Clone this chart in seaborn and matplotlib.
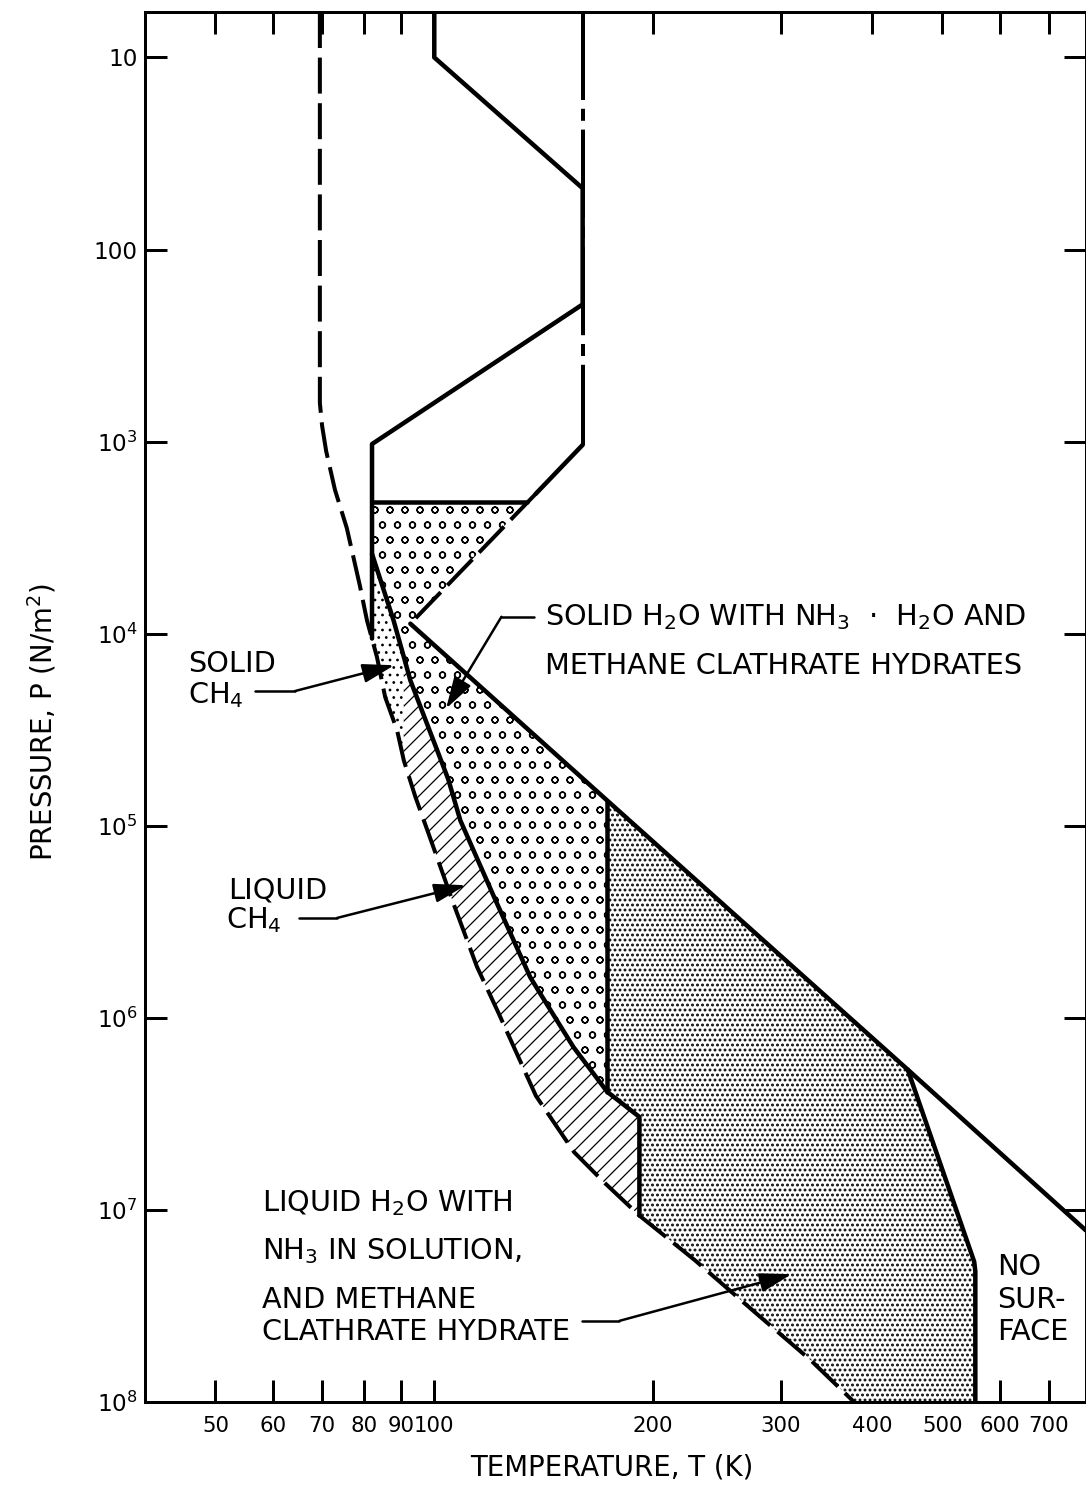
import matplotlib
matplotlib.use("Agg")
import matplotlib.pyplot as plt
from matplotlib.ticker import NullLocator
import seaborn as sns

# ---------------- data (T in K, P in N/m^2) ----------------
x_ticks = [50, 60, 70, 80, 90, 100, 200, 300, 400, 500, 600, 700]
x_tick_labels = ["50", "60", "70", "80", "90", "100", "200", "300", "400", "500", "600", "700"]
y_ticks = [1e1, 1e2, 1e3, 1e4, 1e5, 1e6, 1e7, 1e8]
y_tick_labels = ["10", "100", "$10^3$", "$10^4$", "$10^5$", "$10^6$", "$10^7$", "$10^8$"]

# CH4 condensation curve (long dashes)
ch4_T = [69.6, 69.6, 70.1, 71.0, 73.0, 75.8, 79.0, 80.8, 83.4, 85.6, 88.9, 90.8, 94.2, 98.3,
         106.3, 114.5, 122.3, 138.0, 155.7, 171.6, 191.5, 228.0, 275.6, 329.0, 378.0]
ch4_P = [5.8, 630, 830, 1120, 1780, 2820, 5620, 8530, 13240, 21400, 31900, 45700, 70800, 1.11e5,
         2.55e5, 5.43e5, 9.27e5, 2.55e6, 5.0e6, 7.24e6, 1.07e7, 1.82e7, 3.39e7, 6.03e7, 1.0e8]

# boundary of the clathrate region (solid curve)
melt_T = [82.1, 87.9, 90.8, 92.7, 104.5, 108.6, 120.8, 135.5, 139.9, 155.4, 173.0, 191.5, 191.5]
melt_P = [3840, 8530, 13200, 17500, 57100, 93800, 2.34e5, 6.14e5, 7.48e5, 1.42e6, 2.43e6, 3.28e6, 1.07e7]

# upper solid boundary
upper_T = [100, 100, 160, 160, 82.1, 82.1]
upper_P = [5.8, 10, 48, 193, 1030, 10600]

# horizontal solid line
hyd_T = [82.1, 134.1]
hyd_P = [2070, 2070]

# dash-dot vertical
dd_T = [160, 160]
dd_P = [5.8, 1040]

# diagonal (solid then dashed)
diag_T = [160, 137.9, 92.7]
diag_P = [1040, 1870, 8870]

# long solid diagonal
nh3_T = [92.7, 173.0, 448.0, 788.0]
nh3_P = [8870, 74000, 1.86e6, 1.28e7]

# vertical at 173 K
v173_T = [173.0, 173.0]
v173_P = [74000, 2.43e6]

# "no surface" boundary
ns_T = [448.0, 553.0, 555.0, 555.0]
ns_P = [1.86e6, 1.86e7, 2.09e7, 1.0e8]

# leader lines
lead_sch4_T = [56.6, 64.3, 88.1]
lead_sch4_P = [19900, 19900, 14600]
lead_lch4_T = [65.1, 73.5, 110.5]
lead_lch4_P = [3.02e5, 3.02e5, 2.04e5]
lead_sh2o_T = [137.3, 123.7, 103.8]
lead_sh2o_P = [8170, 8170, 24550]
lead_lh2o_T = [159.9, 179.8, 310.0]
lead_lh2o_P = [3.78e7, 3.78e7, 2.16e7]

# ---------------- style ----------------
sns.set_theme(style="ticks", rc={
    "axes.edgecolor": "black", "xtick.color": "black", "ytick.color": "black",
    "text.color": "black", "axes.labelcolor": "black",
})
plt.rcParams["font.family"] = ["DejaVu Sans"]
plt.rcParams["mathtext.fontset"] = "dejavusans"
plt.rcParams["hatch.linewidth"] = 1.0

DPI = 90
fig = plt.figure(figsize=(1086 / DPI, 1504 / DPI), dpi=DPI)
fig.patch.set_facecolor("white")
ax = fig.add_axes([145 / 1086, 102 / 1504, 941 / 1086, 1390 / 1504])
ax.set_xscale("log")
ax.set_yscale("log")
ax.set_xlim(40, 788)
ax.set_ylim(1e8, 5.8)

# ---------------- filled regions ----------------
def region(Ts, Ps, hatch, hlw=1.0):
    plt.rcParams["hatch.linewidth"] = hlw
    p = ax.fill(Ts, Ps, facecolor="white", edgecolor="black", linewidth=0,
                hatch=hatch, zorder=1)[0]
    if hasattr(p, "set_hatch_linewidth"):
        p.set_hatch_linewidth(hlw)

i_m = ch4_T.index(90.8)      # CH4 triple point on the dashed curve
i_c = ch4_T.index(191.5)     # corner of liquid-CH4 band
j_m = melt_T.index(90.8)

# solid CH4
region(melt_T[0:j_m + 1] + ch4_T[i_m:6:-1] + [upper_T[-1]],
       melt_P[0:j_m + 1] + ch4_P[i_m:6:-1] + [upper_P[-1]], "..", 1.0)
# liquid CH4
region(melt_T[j_m:] + ch4_T[i_c - 1:i_m - 1:-1],
       melt_P[j_m:] + ch4_P[i_c - 1:i_m - 1:-1], "//", 1.0)
# solid H2O + NH3.H2O + clathrate
region(hyd_T + [diag_T[2], nh3_T[1]] + melt_T[10::-1],
       hyd_P + [diag_P[2], nh3_P[1]] + melt_P[10::-1], "o", 1.1)
# liquid H2O
region(nh3_T[1:3] + ns_T[1:] + ch4_T[:i_c - 1:-1] + melt_T[11:9:-1],
       nh3_P[1:3] + ns_P[1:] + ch4_P[:i_c - 1:-1] + melt_P[11:9:-1], "...", 1.5)
plt.rcParams["hatch.linewidth"] = 1.0

# ---------------- boundary lines ----------------
LW = 3.6
def line(Ts, Ps, lw=LW, ls="-"):
    sns.lineplot(x=Ts, y=Ps, ax=ax, sort=False, estimator=None, color="black",
                 linewidth=lw, linestyle=ls, zorder=3)

line(ch4_T, ch4_P, lw=3.2, ls=(0, (9, 2.4)))
line(melt_T, melt_P)
line(upper_T, upper_P)
line(hyd_T, hyd_P)
line(dd_T, dd_P, lw=3.2, ls=(0, (22, 2.2, 3, 2.2)))
line(diag_T[0:2], diag_P[0:2])
line(diag_T[1:], diag_P[1:], lw=3.2, ls=(0, (9, 2.4)))
line(nh3_T, nh3_P)
line(v173_T, v173_P)
line(ns_T, ns_P)

# ---------------- leaders ----------------
for Ts, Ps in [(lead_sch4_T, lead_sch4_P), (lead_lch4_T, lead_lch4_P),
               (lead_sh2o_T, lead_sh2o_P), (lead_lh2o_T, lead_lh2o_P)]:
    line(Ts[:2], Ps[:2], lw=2.0)
    ax.annotate("", xy=(Ts[2], Ps[2]), xytext=(Ts[1], Ps[1]), xycoords="data",
                arrowprops=dict(arrowstyle="-|>,head_length=0.6,head_width=0.18",
                                mutation_scale=36, lw=2.0, color="black",
                                shrinkA=0, shrinkB=0), zorder=4)

# ---------------- labels ----------------
FS = 23
def label(t, T, P):
    ax.text(T, P, t, fontsize=FS, ha="left", va="baseline", zorder=5)

label("SOLID H$_2$O WITH NH$_3$  \u00b7  H$_2$O AND", 142.1, 9060)
label("METHANE CLATHRATE HYDRATES", 142.1, 16180)
label("SOLID", 45.8, 15850)
label("CH$_4$", 45.8, 23070)
label("LIQUID", 52.0, 2.40e5)
label("CH$_4$", 51.7, 3.42e5)
label("LIQUID H$_2$O WITH", 58.0, 1.014e7)
label("NH$_3$ IN SOLUTION,", 58.0, 1.80e7)
label("AND METHANE", 58.0, 3.24e7)
label("CLATHRATE HYDRATE", 58.0, 4.74e7)
label("NO", 595, 2.19e7)
label("SUR-", 595, 3.25e7)
label("FACE", 595, 4.78e7)

# ---------------- axes ----------------
ax.set_xticks(x_ticks)
ax.set_xticklabels(x_tick_labels)
ax.set_yticks(y_ticks)
ax.set_yticklabels(y_tick_labels)
ax.xaxis.set_minor_locator(NullLocator())
ax.yaxis.set_minor_locator(NullLocator())
ax.tick_params(axis="both", which="major", direction="in", length=17.5, width=2.4,
               top=True, right=True, labelsize=17)
ax.tick_params(axis="x", pad=11)
ax.tick_params(axis="y", pad=6, labelsize=18.5)
for s in ax.spines.values():
    s.set_linewidth(2.4)
    s.set_color("black")

ax.set_xlabel("TEMPERATURE, T (K)", fontsize=22)
ax.set_ylabel("PRESSURE, P (N/m$^2$)", fontsize=22)
ax.xaxis.set_label_coords(0.4963, -0.037)
ax.yaxis.set_label_coords(-0.0914, 0.489)
ax.grid(False)

fig.savefig("out.png", dpi=DPI, facecolor="white")
